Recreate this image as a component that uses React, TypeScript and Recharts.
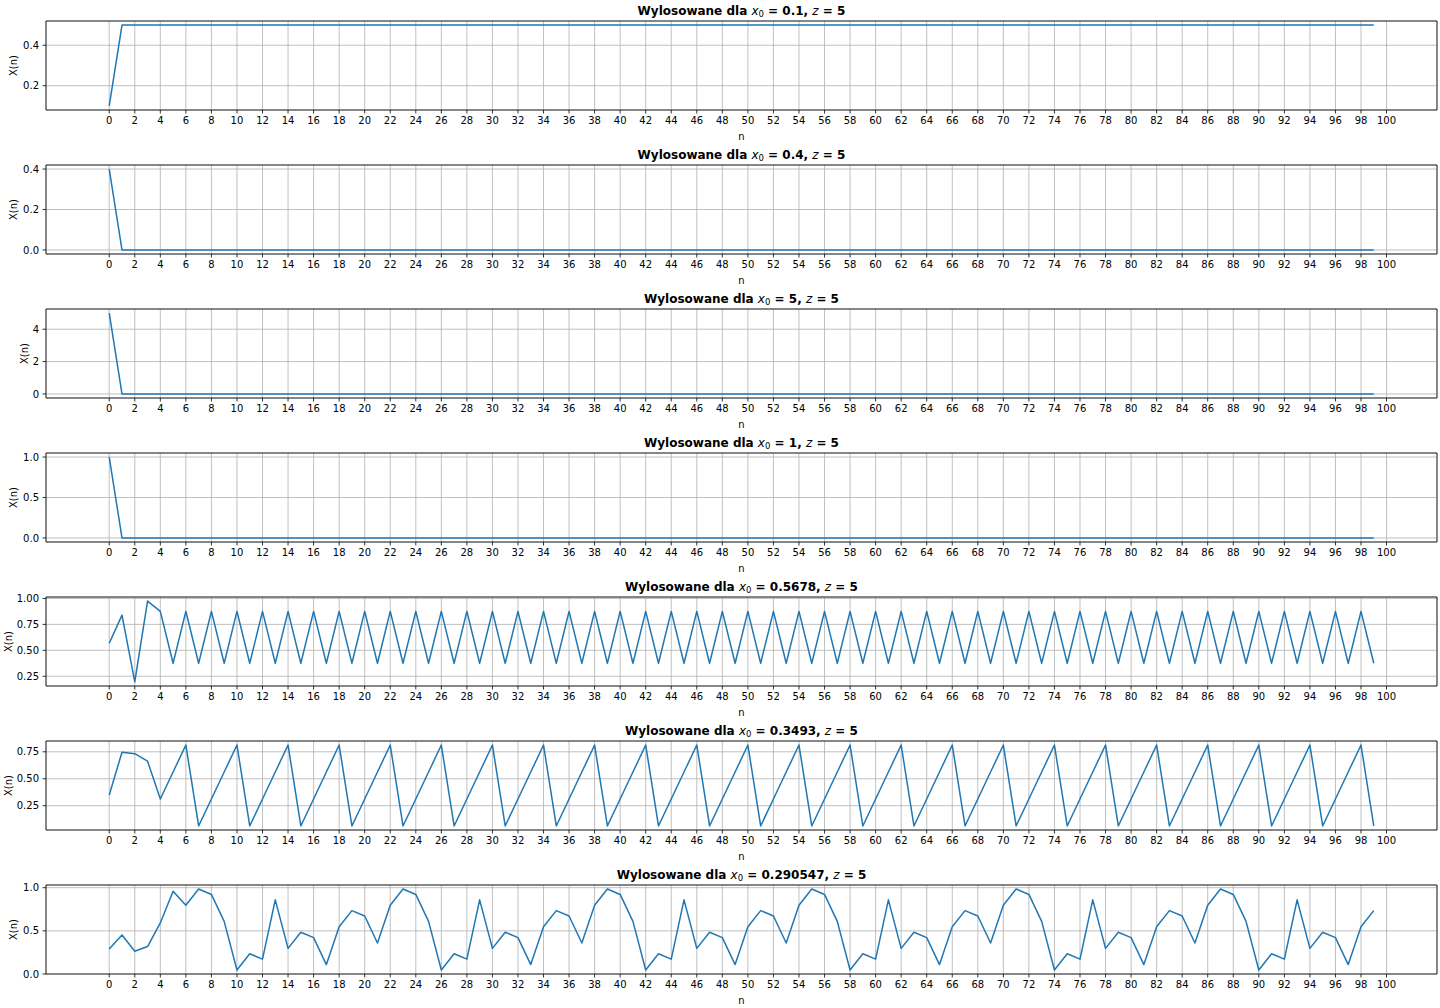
import { CartesianGrid, Line, LineChart, ReferenceArea, XAxis, YAxis } from "recharts";

const FONT = "DejaVu Sans, sans-serif";
const BLUE = "#1f77b4";

const X0_LABELS = ["0.1", "0.4", "5", "1", "0.5678", "0.3493", "0.290547"];
const Z_LABEL = "5";

const X_TICKS = [
  0, 2, 4, 6, 8, 10, 12, 14, 16, 18, 20, 22, 24, 26, 28, 30, 32, 34, 36, 38, 40, 42, 44, 46, 48, 50,
  52, 54, 56, 58, 60, 62, 64, 66, 68, 70, 72, 74, 76, 78, 80, 82, 84, 86, 88, 90, 92, 94, 96, 98, 100,
];

const Y_TICKS = [
  [0.2, 0.4],
  [0, 0.2, 0.4],
  [0, 2, 4],
  [0, 0.5, 1],
  [0.25, 0.5, 0.75, 1],
  [0.25, 0.5, 0.75],
  [0, 0.5, 1],
];
const Y_DECIMALS = [1, 1, 0, 1, 2, 2, 1];
// x position of the rotated "X(n)" label, follows tick label width
const Y_LABEL_X = [13, 13, 24, 13, 8, 8, 13];

const S1 = [
  0.1, 0.5, 0.5, 0.5, 0.5, 0.5, 0.5, 0.5, 0.5, 0.5,
  0.5, 0.5, 0.5, 0.5, 0.5, 0.5, 0.5, 0.5, 0.5, 0.5,
  0.5, 0.5, 0.5, 0.5, 0.5, 0.5, 0.5, 0.5, 0.5, 0.5,
  0.5, 0.5, 0.5, 0.5, 0.5, 0.5, 0.5, 0.5, 0.5, 0.5,
  0.5, 0.5, 0.5, 0.5, 0.5, 0.5, 0.5, 0.5, 0.5, 0.5,
  0.5, 0.5, 0.5, 0.5, 0.5, 0.5, 0.5, 0.5, 0.5, 0.5,
  0.5, 0.5, 0.5, 0.5, 0.5, 0.5, 0.5, 0.5, 0.5, 0.5,
  0.5, 0.5, 0.5, 0.5, 0.5, 0.5, 0.5, 0.5, 0.5, 0.5,
  0.5, 0.5, 0.5, 0.5, 0.5, 0.5, 0.5, 0.5, 0.5, 0.5,
  0.5, 0.5, 0.5, 0.5, 0.5, 0.5, 0.5, 0.5, 0.5, 0.5,
];

const S2 = [
  0.4, 0, 0, 0, 0, 0, 0, 0, 0, 0,
  0, 0, 0, 0, 0, 0, 0, 0, 0, 0,
  0, 0, 0, 0, 0, 0, 0, 0, 0, 0,
  0, 0, 0, 0, 0, 0, 0, 0, 0, 0,
  0, 0, 0, 0, 0, 0, 0, 0, 0, 0,
  0, 0, 0, 0, 0, 0, 0, 0, 0, 0,
  0, 0, 0, 0, 0, 0, 0, 0, 0, 0,
  0, 0, 0, 0, 0, 0, 0, 0, 0, 0,
  0, 0, 0, 0, 0, 0, 0, 0, 0, 0,
  0, 0, 0, 0, 0, 0, 0, 0, 0, 0,
];

const S3 = [
  5, 0, 0, 0, 0, 0, 0, 0, 0, 0,
  0, 0, 0, 0, 0, 0, 0, 0, 0, 0,
  0, 0, 0, 0, 0, 0, 0, 0, 0, 0,
  0, 0, 0, 0, 0, 0, 0, 0, 0, 0,
  0, 0, 0, 0, 0, 0, 0, 0, 0, 0,
  0, 0, 0, 0, 0, 0, 0, 0, 0, 0,
  0, 0, 0, 0, 0, 0, 0, 0, 0, 0,
  0, 0, 0, 0, 0, 0, 0, 0, 0, 0,
  0, 0, 0, 0, 0, 0, 0, 0, 0, 0,
  0, 0, 0, 0, 0, 0, 0, 0, 0, 0,
];

const S4 = [
  1, 0, 0, 0, 0, 0, 0, 0, 0, 0,
  0, 0, 0, 0, 0, 0, 0, 0, 0, 0,
  0, 0, 0, 0, 0, 0, 0, 0, 0, 0,
  0, 0, 0, 0, 0, 0, 0, 0, 0, 0,
  0, 0, 0, 0, 0, 0, 0, 0, 0, 0,
  0, 0, 0, 0, 0, 0, 0, 0, 0, 0,
  0, 0, 0, 0, 0, 0, 0, 0, 0, 0,
  0, 0, 0, 0, 0, 0, 0, 0, 0, 0,
  0, 0, 0, 0, 0, 0, 0, 0, 0, 0,
  0, 0, 0, 0, 0, 0, 0, 0, 0, 0,
];

const S5 = [
  0.5678, 0.839, 0.195, 0.975, 0.875, 0.375, 0.875, 0.375, 0.875, 0.375,
  0.875, 0.375, 0.875, 0.375, 0.875, 0.375, 0.875, 0.375, 0.875, 0.375,
  0.875, 0.375, 0.875, 0.375, 0.875, 0.375, 0.875, 0.375, 0.875, 0.375,
  0.875, 0.375, 0.875, 0.375, 0.875, 0.375, 0.875, 0.375, 0.875, 0.375,
  0.875, 0.375, 0.875, 0.375, 0.875, 0.375, 0.875, 0.375, 0.875, 0.375,
  0.875, 0.375, 0.875, 0.375, 0.875, 0.375, 0.875, 0.375, 0.875, 0.375,
  0.875, 0.375, 0.875, 0.375, 0.875, 0.375, 0.875, 0.375, 0.875, 0.375,
  0.875, 0.375, 0.875, 0.375, 0.875, 0.375, 0.875, 0.375, 0.875, 0.375,
  0.875, 0.375, 0.875, 0.375, 0.875, 0.375, 0.875, 0.375, 0.875, 0.375,
  0.875, 0.375, 0.875, 0.375, 0.875, 0.375, 0.875, 0.375, 0.875, 0.375,
];

const S6 = [
  0.3493, 0.7465, 0.7325, 0.6625, 0.3125, 0.5625, 0.8125, 0.0625, 0.3125, 0.5625,
  0.8125, 0.0625, 0.3125, 0.5625, 0.8125, 0.0625, 0.3125, 0.5625, 0.8125, 0.0625,
  0.3125, 0.5625, 0.8125, 0.0625, 0.3125, 0.5625, 0.8125, 0.0625, 0.3125, 0.5625,
  0.8125, 0.0625, 0.3125, 0.5625, 0.8125, 0.0625, 0.3125, 0.5625, 0.8125, 0.0625,
  0.3125, 0.5625, 0.8125, 0.0625, 0.3125, 0.5625, 0.8125, 0.0625, 0.3125, 0.5625,
  0.8125, 0.0625, 0.3125, 0.5625, 0.8125, 0.0625, 0.3125, 0.5625, 0.8125, 0.0625,
  0.3125, 0.5625, 0.8125, 0.0625, 0.3125, 0.5625, 0.8125, 0.0625, 0.3125, 0.5625,
  0.8125, 0.0625, 0.3125, 0.5625, 0.8125, 0.0625, 0.3125, 0.5625, 0.8125, 0.0625,
  0.3125, 0.5625, 0.8125, 0.0625, 0.3125, 0.5625, 0.8125, 0.0625, 0.3125, 0.5625,
  0.8125, 0.0625, 0.3125, 0.5625, 0.8125, 0.0625, 0.3125, 0.5625, 0.8125, 0.0625,
];

const S7 = [
  0.290547, 0.452735, 0.263675, 0.318375, 0.591875, 0.959375, 0.796875, 0.984375, 0.921875, 0.609375,
  0.046875, 0.234375, 0.171875, 0.859375, 0.296875, 0.484375, 0.421875, 0.109375, 0.546875, 0.734375,
  0.671875, 0.359375, 0.796875, 0.984375, 0.921875, 0.609375, 0.046875, 0.234375, 0.171875, 0.859375,
  0.296875, 0.484375, 0.421875, 0.109375, 0.546875, 0.734375, 0.671875, 0.359375, 0.796875, 0.984375,
  0.921875, 0.609375, 0.046875, 0.234375, 0.171875, 0.859375, 0.296875, 0.484375, 0.421875, 0.109375,
  0.546875, 0.734375, 0.671875, 0.359375, 0.796875, 0.984375, 0.921875, 0.609375, 0.046875, 0.234375,
  0.171875, 0.859375, 0.296875, 0.484375, 0.421875, 0.109375, 0.546875, 0.734375, 0.671875, 0.359375,
  0.796875, 0.984375, 0.921875, 0.609375, 0.046875, 0.234375, 0.171875, 0.859375, 0.296875, 0.484375,
  0.421875, 0.109375, 0.546875, 0.734375, 0.671875, 0.359375, 0.796875, 0.984375, 0.921875, 0.609375,
  0.046875, 0.234375, 0.171875, 0.859375, 0.296875, 0.484375, 0.421875, 0.109375, 0.546875, 0.734375,
];

const SERIES = [S1, S2, S3, S4, S5, S6, S7];

const WIDTH = 1440;
const PANEL_H = 144;
const PLOT_TOP = 21;
const PLOT_H = 89;
const X_DOMAIN: [number, number] = [-4.95, 103.95];

const tickStyle = { fontSize: 10, fill: "#000", fontFamily: FONT };

interface PanelProps {
  values: number[];
  x0: string;
  yTicks: number[];
  decimals: number;
  labelX: number;
}

function Panel({ values, x0, yTicks, decimals, labelX }: PanelProps) {
  const data = values.map((v, i) => ({ n: i, x: v }));
  const lo = Math.min(...values);
  const hi = Math.max(...values);
  const pad = (hi - lo) * 0.05;
  const yDomain: [number, number] = [lo - pad, hi + pad];
  const midY = PLOT_TOP + PLOT_H / 2;

  return (
    <div style={{ position: "relative", width: WIDTH, height: PANEL_H }}>
      <LineChart
        width={WIDTH}
        height={PANEL_H}
        data={data}
        margin={{ top: PLOT_TOP, right: 3, bottom: 0, left: 0 }}
      >
        <CartesianGrid stroke="#b0b0b0" strokeWidth={0.8} />
        <XAxis
          type="number"
          dataKey="n"
          domain={X_DOMAIN}
          allowDataOverflow
          ticks={X_TICKS}
          interval={0}
          height={34}
          tickSize={3.5}
          tickMargin={3.5}
          tick={tickStyle}
          tickLine={{ stroke: "#000", strokeWidth: 0.8 }}
          axisLine={false}
          label={{
            value: "n",
            position: "insideBottom",
            offset: 4.5,
            fontSize: 10,
            fill: "#000",
            fontFamily: FONT,
          }}
        />
        <YAxis
          type="number"
          domain={yDomain}
          allowDataOverflow
          ticks={yTicks}
          interval={0}
          width={46}
          tickSize={3.5}
          tickMargin={3.5}
          tick={tickStyle}
          tickLine={{ stroke: "#000", strokeWidth: 0.8 }}
          axisLine={false}
          tickFormatter={(v) => Number(v).toFixed(decimals)}
          label={{
            value: "X(n)",
            content: () => (
              <text
                x={labelX}
                y={midY}
                transform={`rotate(-90 ${labelX} ${midY})`}
                textAnchor="middle"
                dominantBaseline="central"
                fontSize={10}
                fill="#000"
                fontFamily={FONT}
              >
                X(n)
              </text>
            ),
          }}
        />
        <Line
          type="linear"
          dataKey="x"
          stroke={BLUE}
          strokeWidth={1.5}
          strokeLinejoin="round"
          dot={false}
          activeDot={false}
          isAnimationActive={false}
        />
        <ReferenceArea
          x1={X_DOMAIN[0]}
          x2={X_DOMAIN[1]}
          y1={yDomain[0]}
          y2={yDomain[1]}
          fill="none"
          fillOpacity={0}
          stroke="#000"
          strokeWidth={0.8}
        />
      </LineChart>
      <svg
        width={WIDTH}
        height={PLOT_TOP}
        style={{ position: "absolute", left: 0, top: 0 }}
      >
        <text
          x={741.5}
          y={15}
          textAnchor="middle"
          fontFamily={FONT}
          fontSize={12}
          fontWeight="bold"
          fill="#000"
        >
          <tspan>{"Wylosowane dla "}</tspan>
          <tspan fontStyle="italic" fontWeight="normal">x</tspan>
          <tspan fontSize={8.5} fontWeight="normal" dy={2}>0</tspan>
          <tspan dy={-2}>{` = ${x0}, `}</tspan>
          <tspan fontStyle="italic" fontWeight="normal">z</tspan>
          <tspan>{` = ${Z_LABEL}`}</tspan>
        </text>
      </svg>
    </div>
  );
}

export default function App() {
  return (
    <div
      style={{
        position: "absolute",
        left: 0,
        top: 0,
        width: WIDTH,
        height: 1008,
        background: "#fff",
      }}
    >
      {SERIES.map((values, i) => (
        <Panel
          key={i}
          values={values}
          x0={X0_LABELS[i]}
          yTicks={Y_TICKS[i]}
          decimals={Y_DECIMALS[i]}
          labelX={Y_LABEL_X[i]}
        />
      ))}
    </div>
  );
}
